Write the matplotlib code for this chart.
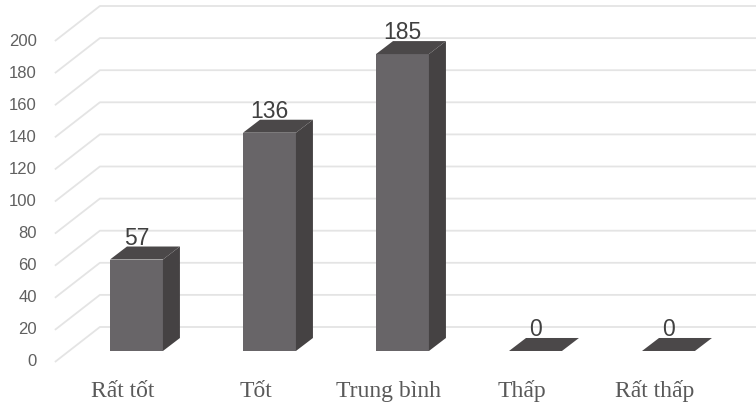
import numpy as np
import matplotlib
matplotlib.use('Agg')
import matplotlib.pyplot as plt
from matplotlib.patches import Polygon, Rectangle
from matplotlib.transforms import offset_copy

categories = ['Rất tốt', 'Tốt', 'Trung bình', 'Thấp', 'Rất thấp']
values = [57, 136, 185, 0, 0]
yticks = list(range(0, 201, 20))

front_col = '#686568'
side_col = '#454243'
top_col = '#4b4849'
grid_col = '#e4e4e4'

fig = plt.figure(figsize=(7.56, 4.07), dpi=100)
ax = fig.add_axes([0, 0, 1, 1])
ax.set_xlim(-1.026, 4.658)
ax.set_ylim(-34.9, 218.7)
ax.axis('off')

# pixel offsets (x right, y up) for the fake 3d look
bar_depth = (17, 13)
floor_front = (-14, -11)
back_wall = (31, 24)
wall_x = -0.508
bar_w = 0.398


def px_to_data(dx, dy):
    inv = ax.transData.inverted()
    p0 = inv.transform(ax.transData.transform((0, 0)))
    p1 = inv.transform(ax.transData.transform((0, 0)) + np.array([dx, dy]))
    return p1 - p0


def shifted(dx, dy):
    return offset_copy(ax.transData, fig=fig, x=dx, y=dy, units='dots')


ddx, ddy = px_to_data(*bar_depth)
fx, fy = px_to_data(*floor_front)
bx, by = px_to_data(*back_wall)

# gridlines: diagonal on the side wall, then flat along the back wall
for v in yticks:
    xs = [wall_x + fx, wall_x + bx, 5]
    ys = [v + fy, v + by, v + by]
    ax.plot(xs, ys, color=grid_col, lw=1.3, zorder=1, solid_capstyle='butt')
    ax.text(wall_x, v, str(v), transform=shifted(floor_front[0] - 18, floor_front[1]),
            ha='right', va='center', fontsize=12, color='#606060',
            family='Liberation Sans')

for i, (cat, v) in enumerate(zip(categories, values)):
    x0 = i - bar_w / 2
    x1 = i + bar_w / 2
    if v > 0:
        ax.add_patch(Rectangle((x0, 0), bar_w, v, facecolor=front_col,
                               edgecolor='none', zorder=3))
        ax.add_patch(Polygon([(x1, 0), (x1 + ddx, ddy), (x1 + ddx, v + ddy), (x1, v)],
                             facecolor=side_col, edgecolor='none', zorder=3))
    ax.add_patch(Polygon([(x0, v), (x1, v), (x1 + ddx, v + ddy), (x0 + ddx, v + ddy)],
                         facecolor=top_col, edgecolor='none', zorder=3))
    ax.text(i, v, str(v), transform=shifted(0, 15), ha='center', va='baseline',
            fontsize=16.5, color='#404040', family='Liberation Sans', zorder=4)
    ax.text(i, 0, cat, transform=shifted(floor_front[0], -46), ha='center',
            va='baseline', fontsize=17, color='#595959', family='Liberation Serif')

fig.savefig('out.png', dpi=100)
